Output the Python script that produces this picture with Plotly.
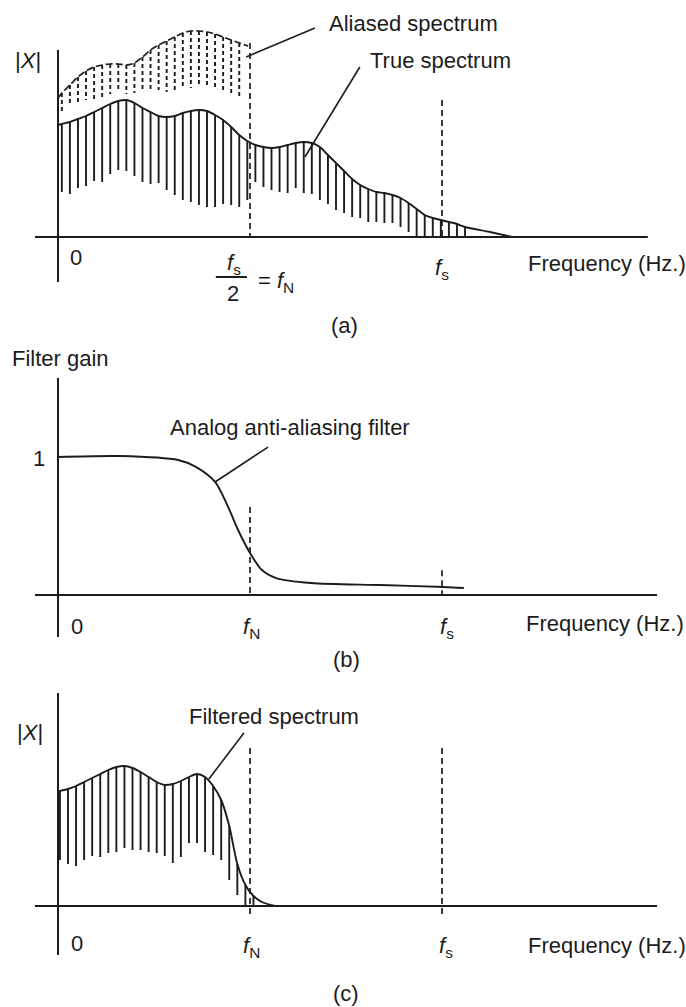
import plotly.graph_objects as go

W, H = 686, 1007
INK = "#1c1c1c"
FONT = dict(family="Liberation Sans, Arial, sans-serif", size=22, color=INK)

# ---------------- data (frequency normalised to fs: fN = 0.5, fs = 1.0) ----------------
marker_freqs = [0.5, 1.0]            # fN, fs

# (a) true spectrum sampled as vertical hatch lines
stem_f_a = [0.010, 0.031, 0.052, 0.073, 0.094, 0.115, 0.136, 0.157, 0.178, 0.199,
            0.220, 0.241, 0.262, 0.283, 0.304, 0.325, 0.346, 0.367, 0.388, 0.409,
            0.430, 0.451, 0.472, 0.493, 0.514, 0.535, 0.556, 0.577, 0.598, 0.619,
            0.640, 0.661, 0.682, 0.703, 0.724, 0.745, 0.766, 0.787, 0.808, 0.829,
            0.850, 0.871, 0.892, 0.913, 0.934, 0.955, 0.976, 0.997, 1.018, 1.039, 1.060]
true_top = [1.13, 1.15, 1.18, 1.21, 1.25, 1.29, 1.33, 1.36, 1.37, 1.34,
            1.29, 1.25, 1.21, 1.20, 1.21, 1.24, 1.26, 1.27, 1.26, 1.22,
            1.17, 1.10, 1.02, 0.96, 0.92, 0.90, 0.89, 0.90, 0.92, 0.94,
            0.95, 0.94, 0.90, 0.82, 0.74, 0.66, 0.58, 0.52, 0.48, 0.45,
            0.44, 0.42, 0.39, 0.34, 0.28, 0.22, 0.19, 0.17, 0.15, 0.13, 0.10]
true_bot = [0.45, 0.43, 0.49, 0.51, 0.56, 0.55, 0.63, 0.67, 0.66, 0.61,
            0.55, 0.53, 0.54, 0.47, 0.42, 0.37, 0.35, 0.32, 0.30, 0.30,
            0.33, 0.32, 0.30, 0.37, 0.55, 0.50, 0.47, 0.45, 0.44, 0.49,
            0.44, 0.43, 0.37, 0.33, 0.27, 0.24, 0.20, 0.19, 0.15, 0.15,
            0.14, 0.14, 0.10, 0.05, 0.0, 0.0, 0.0, 0.0, 0.0, 0.0, 0.0]
true_start = [0.0, 1.12]
true_tail_f = [1.125, 1.182]
true_tail_mag = [0.05, 0.0]

# (a) aliased spectrum (dashed), below fs/2
alias_top = [1.44, 1.52, 1.60, 1.66, 1.70, 1.72, 1.73, 1.73, 1.72, 1.74,
             1.80, 1.87, 1.92, 1.96, 2.00, 2.04, 2.06, 2.06, 2.05, 2.03,
             2.00, 1.97, 1.94]
alias_bot = [1.25, 1.33, 1.33, 1.37, 1.35, 1.37, 1.43, 1.47, 1.43, 1.44,
             1.45, 1.45, 1.47, 1.45, 1.47, 1.49, 1.49, 1.51, 1.50, 1.49,
             1.45, 1.43, 1.40]
alias_start = [0.0, 1.39]
alias_end = [0.495, 1.91]

# (b) analog anti-aliasing filter gain
filter_f = [0.0, 0.161, 0.313, 0.359, 0.409, 0.443, 0.469, 0.500, 0.531, 0.568,
            0.659, 0.839, 1.005, 1.057]
filter_gain = [1.0, 1.007, 0.978, 0.928, 0.819, 0.638, 0.471, 0.304, 0.181, 0.123,
               0.087, 0.072, 0.058, 0.051]

# (c) filtered spectrum
stem_f_c = [0.005, 0.026, 0.047, 0.068, 0.089, 0.110, 0.131, 0.152, 0.173, 0.194,
            0.215, 0.236, 0.257, 0.278, 0.299, 0.320, 0.341, 0.362, 0.383, 0.404,
            0.425, 0.446, 0.467, 0.488, 0.509]
filt_top = [1.15, 1.17, 1.20, 1.24, 1.28, 1.32, 1.36, 1.39, 1.40, 1.38,
            1.34, 1.29, 1.24, 1.21, 1.22, 1.25, 1.29, 1.32, 1.29, 1.20,
            1.06, 0.80, 0.42, 0.21, 0.10]
filt_bot = [0.46, 0.42, 0.40, 0.46, 0.50, 0.49, 0.53, 0.54, 0.58, 0.56,
            0.56, 0.54, 0.53, 0.50, 0.43, 0.49, 0.63, 0.63, 0.54, 0.51,
            0.46, 0.26, 0.11, 0.0, 0.0]
filt_start = [0.0, 1.14]
filt_tail_f = [0.531, 0.565]
filt_tail_mag = [0.04, 0.0]

# dashed marker heights per panel: (top, bottom) for fN and fs
marks_a = [(1.94, 0.0), (1.37, 0.0)]
marks_b = [(0.638, 0.0), (0.18, 0.0)]
marks_c = [(1.58, -0.12), (1.58, -0.12)]

# ---------------- layout helpers ----------------
X0_PX, PX_PER_FS = 58, 384
def yrange(base_px, ppu):
    return [(base_px - H) / ppu, base_px / ppu]

def stems(fs, tops, bots):
    xs, ys = [], []
    for f, t, b in zip(fs, tops, bots):
        xs += [f, f, None]
        ys += [t, b, None]
    return xs, ys

fig = go.Figure()

# ---- panel (a)
sx, sy = stems(stem_f_a, true_top, true_bot)
fig.add_trace(go.Scatter(x=sx, y=sy, mode="lines", line=dict(color=INK, width=1.9), yaxis="y"))
fig.add_trace(go.Scatter(x=[true_start[0]] + stem_f_a + true_tail_f,
                         y=[true_start[1]] + true_top + true_tail_mag,
                         mode="lines", line=dict(color=INK, width=1.9, shape="spline", smoothing=0.8),
                         yaxis="y"))
n_al = len(alias_top)
sx, sy = stems(stem_f_a[:n_al], alias_top, alias_bot)
fig.add_trace(go.Scatter(x=sx, y=sy, mode="lines",
                         line=dict(color=INK, width=1.9, dash="4px,3px"), yaxis="y"))
fig.add_trace(go.Scatter(x=[alias_start[0]] + stem_f_a[:n_al] + [alias_end[0]],
                         y=[alias_start[1]] + alias_top + [alias_end[1]],
                         mode="lines", line=dict(color=INK, width=1.7, dash="7px,3px",
                                                 shape="spline", smoothing=0.8), yaxis="y"))

# ---- panel (b)
fig.add_trace(go.Scatter(x=filter_f, y=filter_gain, mode="lines",
                         line=dict(color=INK, width=1.9, shape="spline", smoothing=0.8), yaxis="y2"))

# ---- panel (c)
sx, sy = stems(stem_f_c, filt_top, filt_bot)
fig.add_trace(go.Scatter(x=sx, y=sy, mode="lines", line=dict(color=INK, width=1.9), yaxis="y3"))
fig.add_trace(go.Scatter(x=[filt_start[0]] + stem_f_c + filt_tail_f,
                         y=[filt_start[1]] + filt_top + filt_tail_mag,
                         mode="lines", line=dict(color=INK, width=1.9, shape="spline", smoothing=0.8),
                         yaxis="y3"))

# dashed fN / fs markers
for yax, marks in (("y", marks_a), ("y2", marks_b), ("y3", marks_c)):
    xs, ys = [], []
    for f, (t, b) in zip(marker_freqs, marks):
        xs += [f, f, None]
        ys += [t, b, None]
    fig.add_trace(go.Scatter(x=xs, y=ys, mode="lines",
                             line=dict(color=INK, width=1.7, dash="6px,4px"), yaxis=yax))

# ---------------- axes lines, leaders (shapes) ----------------
shapes = []
def seg(x0, y0, x1, y1, yref, w=1.8):
    shapes.append(dict(type="line", xref="x", yref=yref, x0=x0, y0=y0, x1=x1, y1=y1,
                       line=dict(color=INK, width=w)))

# axes
seg(0, 1.87, 0, -0.45, "y", 2)
seg(-0.06, 0, 1.536, 0, "y", 2)
seg(0, 1.572, 0, -0.304, "y2", 2)
seg(-0.06, 0, 1.56, 0, "y2", 2)
seg(0, 2.13, 0, -0.49, "y3", 2)
seg(-0.06, 0, 1.56, 0, "y3", 2)
# leaders
seg(0.669, 2.09, 0.490, 1.80, "y", 1.6)
seg(0.786, 1.70, 0.643, 0.80, "y", 1.6)
seg(0.547, 1.072, 0.409, 0.819, "y2", 1.6)
seg(0.484, 1.73, 0.393, 1.27, "y3", 1.6)
# fraction bar fs/2
seg(0.411, -0.40, 0.492, -0.40, "y", 2)

# ---------------- text ----------------
ann = []
def txt(s, x, y, yref, xanchor="center"):
    ann.append(dict(text=s, x=x, y=y, xref="x", yref=yref, showarrow=False,
                    xanchor=xanchor, yanchor="middle", font=FONT))

fN = "<i>f</i><sub>N</sub>"
fS = "<i>f</i><sub>s</sub>"
# (a)
txt("|<i>X</i>|", -0.078, 1.77, "y")
txt("Aliased spectrum", 0.7005, 2.14, "y", "left")
txt("True spectrum", 0.807, 1.77, "y", "left")
txt("0", 0.047, -0.20, "y")
txt(fS, 0.458, -0.27, "y")
txt("2", 0.456, -0.56, "y")
txt("= " + fN, 0.516, -0.45, "y", "left")
txt(fS, 1.0, -0.32, "y")
txt("Frequency (Hz.)", 1.218, -0.26, "y", "left")
txt("(a)", 0.747, -0.88, "y")
# (b)
txt("Filter gain", -0.125, 1.717, "y2", "left")
txt("1", -0.049, 0.986, "y2")
txt("Analog anti-aliasing filter", 0.286, 1.217, "y2", "left")
txt("0", 0.049, -0.225, "y2")
txt(fN, 0.505, -0.24, "y2")
txt(fS, 1.013, -0.24, "y2")
txt("Frequency (Hz.)", 1.214, -0.203, "y2", "left")
txt("(b)", 0.75, -0.464, "y2")
# (c)
txt("|<i>X</i>|", -0.073, 1.74, "y3")
txt("Filtered spectrum", 0.336, 1.90, "y3", "left")
txt("0", 0.049, -0.37, "y3")
txt(fN, 0.505, -0.41, "y3")
txt(fS, 1.010, -0.41, "y3")
txt("Frequency (Hz.)", 1.218, -0.39, "y3", "left")
txt("(c)", 0.75, -0.87, "y3")

hidden = dict(visible=False, showgrid=False, zeroline=False, fixedrange=True)
fig.update_layout(
    width=W, height=H, margin=dict(l=0, r=0, t=0, b=0),
    paper_bgcolor="white", plot_bgcolor="white", showlegend=False,
    xaxis=dict(range=[-X0_PX / PX_PER_FS, (W - X0_PX) / PX_PER_FS], domain=[0, 1], **hidden),
    yaxis=dict(range=yrange(237, 100), domain=[0, 1], **hidden),
    yaxis2=dict(range=yrange(595, 138), domain=[0, 1], overlaying="y", **hidden),
    yaxis3=dict(range=yrange(906, 100), domain=[0, 1], overlaying="y", **hidden),
    shapes=shapes, annotations=ann,
)
fig.write_html("out.html", config={"displayModeBar": False},
               post_script="document.body.style.margin='0';document.body.style.overflow='hidden';")
